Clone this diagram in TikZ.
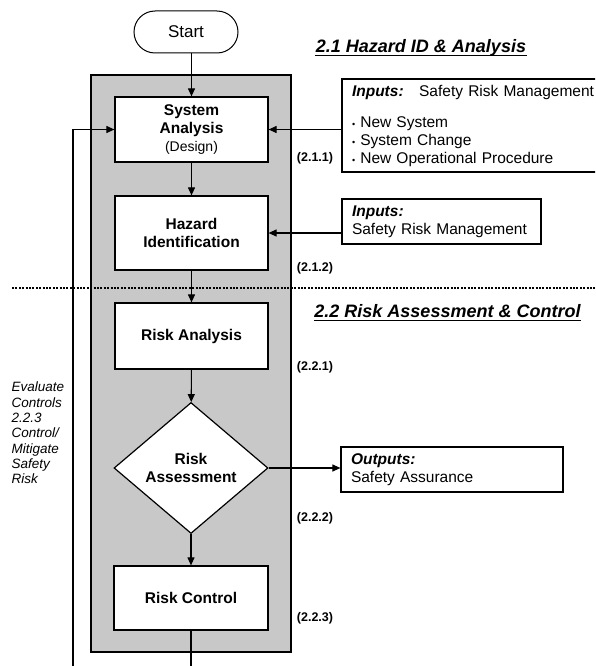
\documentclass[tikz,border=0pt]{standalone}
\usepackage{fontspec}
\setmainfont{Liberation Sans}
\usetikzlibrary{shapes.geometric,arrows.meta}
\definecolor{boxgray}{RGB}{200,200,200}
\begin{document}
\begin{tikzpicture}[x=1pt,y=-1pt,
  line width=1.1pt,
  arr/.style={-{Triangle[length=8pt,width=7pt]}},
  stepbox/.style={draw, fill=white, line width=1.2pt, inner sep=0pt, align=center,
    font=\fontsize{15.5}{18}\selectfont\bfseries},
  infobox/.style={draw, fill=white, line width=1.2pt, inner ysep=3pt, inner xsep=10pt, align=left,
    font=\fontsize{15.5}{18}\selectfont},
  reflabel/.style={font=\fontsize{12.5}{14}\selectfont\bfseries},
  titlelabel/.style={inner sep=0pt, font=\fontsize{18}{20}\selectfont\bfseries\itshape},
]
\useasboundingbox (0,0) rectangle (595,666);
\clip (0,0) rectangle (595,666);

% gray background panel
\node[draw, fill=boxgray, line width=2pt, minimum width=200pt, minimum height=577pt, inner sep=0pt] (panel) at (191,363.5) {};

% start
\node[draw, line width=1pt, rounded corners=21pt, minimum width=104pt, minimum height=42pt, fill=white,
  font=\fontsize{17}{18}\selectfont] (start) at (186,32) {Start};

% process steps
\node[stepbox, minimum width=153pt, minimum height=65pt] (sa) at (191.5,129.5)
  {System\\Analysis\\{\normalfont\fontsize{14}{18}\selectfont (Design)}};
\node[stepbox, minimum width=153pt, minimum height=74pt] (hz) at (191.5,233) {Hazard\\Identification};
\node[stepbox, minimum width=153pt, minimum height=66pt] (ra) at (191.5,336) {Risk Analysis};
\node[stepbox, shape=diamond, shape aspect=1.18, minimum width=154pt, minimum height=131pt] (ras) at (191,468)
  {Risk\\Assessment};
\node[stepbox, minimum width=154pt, minimum height=64pt] (rc) at (191,598) {Risk Control};

% reference labels
\node[reflabel] (l211) at (315,158) {(2.1.1)};
\node[reflabel] (l212) at (315,268) {(2.1.2)};
\node[reflabel] (l221) at (315,367) {(2.2.1)};
\node[reflabel] (l222) at (315,518) {(2.2.2)};
\node[reflabel] (l223) at (315,618) {(2.2.3)};

% titles
\node[titlelabel] (t1) at (421,48) {2.1 Hazard ID \& Analysis};
\draw[line width=1.4pt] ([yshift=-3pt]t1.base west) -- ([yshift=-3pt]t1.base east);
\node[titlelabel] (t2) at (447.5,311) {2.2 Risk Assessment \& Control};
\draw[line width=1.4pt] ([yshift=-3pt]t2.base west) -- ([yshift=-3pt]t2.base east);

% dotted separator
\coordinate (dl) at (12,288);
\coordinate (dr) at (600,288);
\draw[line width=2pt, dash pattern=on 2pt off 1.4pt] (dl) -- (dr);

% input / output boxes
\node[infobox, minimum width=290pt, minimum height=93pt, text width=270pt] (in1) at (487,125.5)
  {\textbf{\textit{Inputs:}}\quad Safety Risk Management\\[13pt]
   {\fontsize{9}{9}\selectfont\textbullet} New System\\
   {\fontsize{9}{9}\selectfont\textbullet} System Change\\
   {\fontsize{9}{9}\selectfont\textbullet} New Operational Procedure};
\node[infobox, minimum width=199pt, minimum height=45pt, text width=179pt] (in2) at (441.5,221.5)
  {\textbf{\textit{Inputs:}}\\Safety Risk Management};
\node[infobox, minimum width=222pt, minimum height=45pt, text width=202pt] (out) at (452,469.5)
  {\textbf{\textit{Outputs:}}\\Safety Assurance};

% left annotation
\node[anchor=west, align=left, inner sep=0pt, font=\fontsize{13.5}{15.3}\selectfont\itshape] (eval) at (11,433)
  {Evaluate\\Controls\\2.2.3\\Control/\\Mitigate\\Safety\\Risk};

% connectors
\draw[arr] (start.south -| sa.north) -- (sa.north);
\draw[arr] (sa) -- (hz);
\draw[arr] (hz) -- (ra);
\draw[arr] (ra) -- (ras);
\draw[arr] (ras) -- (rc);
\coordinate (rcend) at (191,670);
\draw (rc.south) -- (rcend);
\draw[arr] (ras.east) -- (ras.east -| out.west);
\draw[arr] (sa.east -| in1.west) -- (sa.east);
\draw[arr] (hz.east -| in2.west) -- (hz.east);
\coordinate (loopend) at (73,670);
\draw[arr] (loopend) |- (sa.west);
\end{tikzpicture}
\end{document}
